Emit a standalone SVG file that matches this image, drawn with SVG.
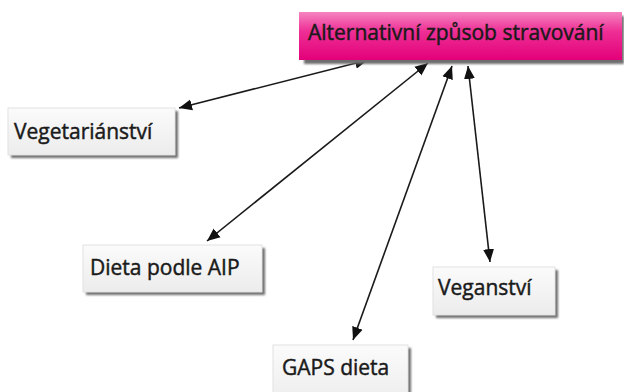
<svg xmlns="http://www.w3.org/2000/svg" width="624" height="392" viewBox="0 0 624 392">
<defs>
<linearGradient id="pink" x1="0" y1="0" x2="0" y2="1">
<stop offset="0" stop-color="#f584c0"/>
<stop offset="0.4" stop-color="#ee2f95"/>
<stop offset="1" stop-color="#e3007a"/>
</linearGradient>
<linearGradient id="light" x1="0" y1="0" x2="0" y2="1">
<stop offset="0" stop-color="#fbfbfb"/>
<stop offset="1" stop-color="#ececec"/>
</linearGradient>
<filter id="blur" x="-10%" y="-20%" width="120%" height="140%">
<feGaussianBlur stdDeviation="0.9"/>
</filter>
<marker id="ah" markerUnits="userSpaceOnUse" markerWidth="14" markerHeight="12" refX="13" refY="5.5" orient="auto-start-reverse" viewBox="0 0 14 11">
<path d="M0,0 L13,5.5 L0,11 z" fill="#111"/>
</marker>
</defs>
<style>
.lbl{font-family:"Open Sans","Noto Sans","DejaVu Sans",sans-serif;font-size:21px;fill:#1a1a1a;stroke:#1a1a1a;stroke-width:0.45;}
.box{fill:url(#light);stroke:#e2e2e2;stroke-width:1;}
.shadow{fill:#6e6e6e;filter:url(#blur);}
.conn{stroke:#1a1a1a;stroke-width:1.6;fill:none;marker-start:url(#ah);marker-end:url(#ah);}
</style>
<rect width="624" height="392" fill="#ffffff"/>
<g id="connectors">
<line class="conn" x1="179" y1="108" x2="368" y2="60"/>
<line class="conn" x1="207" y1="241" x2="428" y2="63"/>
<line class="conn" x1="353" y1="340" x2="452" y2="66"/>
<line class="conn" x1="490" y1="262" x2="468" y2="66"/>
</g>
<g id="node-main">
<rect class="shadow" x="304" y="16" width="320" height="48"/>
<rect x="299" y="12" width="323" height="48" fill="url(#pink)"/>
<text class="lbl" x="308" y="40">Alternativní způsob stravování</text>
</g>
<g id="node-vegetarianstvi">
<rect class="shadow" x="11" y="111" width="167" height="47"/>
<rect class="box" x="8" y="108" width="167" height="47"/>
<text class="lbl" x="14" y="139">Vegetariánství</text>
</g>
<g id="node-aip">
<rect class="shadow" x="86" y="248" width="179" height="47"/>
<rect class="box" x="83" y="245" width="179" height="47"/>
<text class="lbl" x="90" y="275">Dieta podle AIP</text>
</g>
<g id="node-gaps">
<rect class="shadow" x="276" y="348" width="135" height="60"/>
<rect class="box" x="273" y="345" width="135" height="60"/>
<text class="lbl" x="282" y="375">GAPS dieta</text>
</g>
<g id="node-veganstvi">
<rect class="shadow" x="436" y="270" width="122" height="48"/>
<rect class="box" x="433" y="267" width="122" height="48"/>
<text class="lbl" x="438" y="295">Veganství</text>
</g>
</svg>
